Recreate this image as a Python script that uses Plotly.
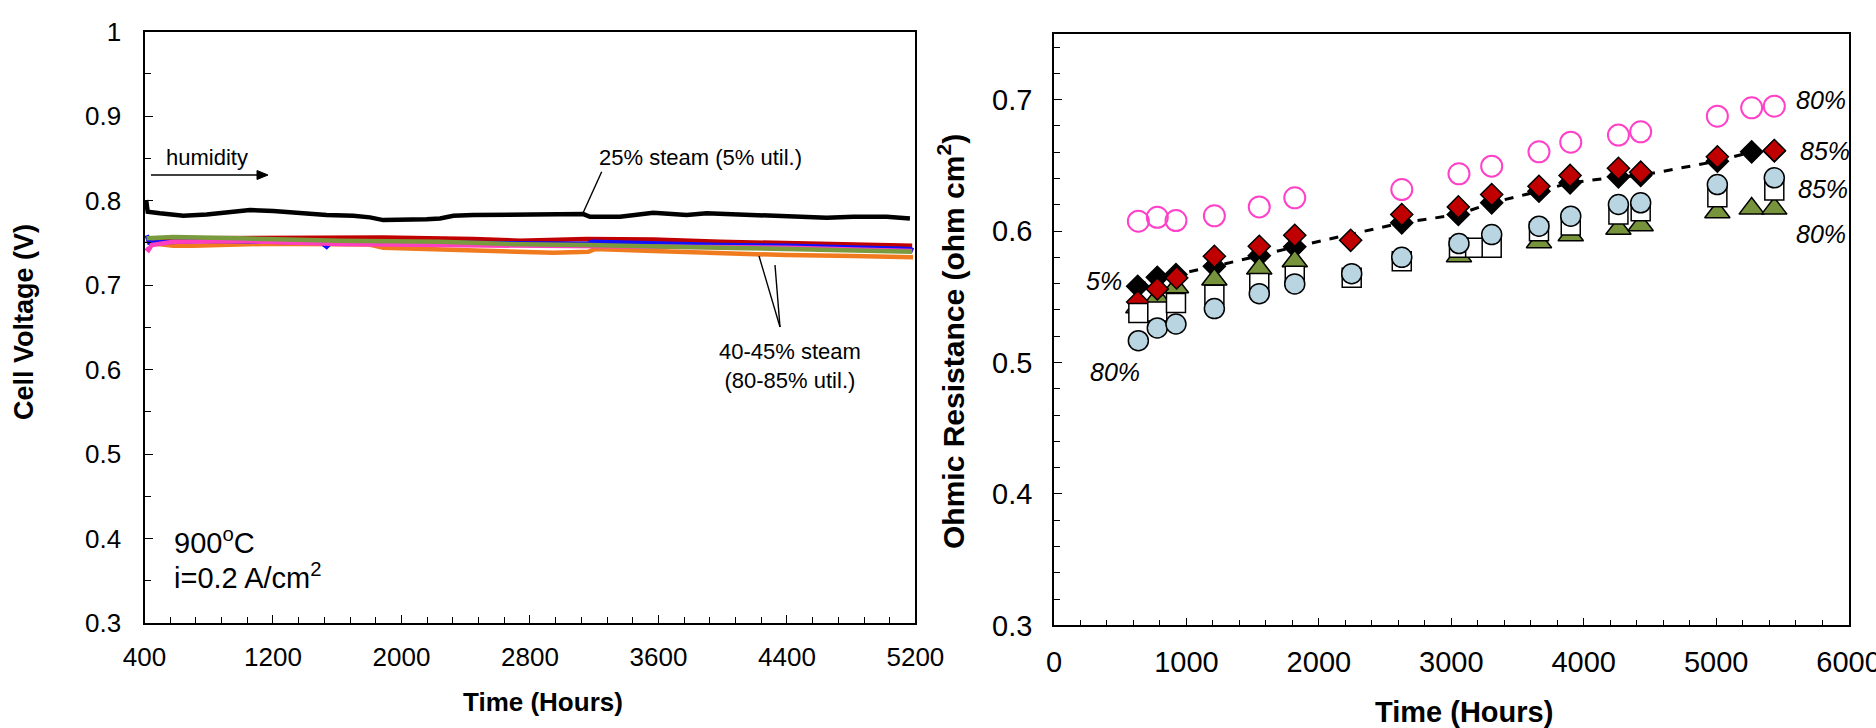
import plotly.graph_objects as go

# ---------------- Left chart: cell voltage vs time ----------------
black_t = [410, 420, 496, 642, 787, 912, 1057, 1202, 1368, 1534, 1700, 1804, 1887, 2033, 2157, 2240,
           2323, 2447, 2655, 2863, 3132, 3174, 3361, 3568, 3776, 3900, 4191, 4399, 4648, 4814, 5021, 5166]
black_v = [0.8006, 0.7868, 0.7849, 0.782, 0.7836, 0.786, 0.7888, 0.7876, 0.7849, 0.7828, 0.782, 0.7801,
           0.7769, 0.7769, 0.7778, 0.7789, 0.782, 0.7828, 0.7828, 0.7836, 0.784, 0.7808, 0.7808, 0.7856,
           0.7828, 0.7849, 0.7828, 0.782, 0.7797, 0.7808, 0.7808, 0.7789]

orange_t = [410, 445, 580, 704, 1200, 1800, 1887, 2240, 2738, 2945, 3163, 3205, 3568, 3983, 4399, 4814, 5185]
orange_v = [0.7528, 0.7494, 0.7466, 0.7466, 0.749, 0.748, 0.7442, 0.7426, 0.7394, 0.7382, 0.7394, 0.7426,
            0.7402, 0.7375, 0.7355, 0.7343, 0.7328]

red_t = [420, 787, 1202, 1887, 2447, 2738, 3153, 3568, 3983, 4399, 4814, 5180]
red_v = [0.755, 0.7555, 0.7553, 0.7564, 0.7544, 0.7525, 0.7544, 0.754, 0.7513, 0.7494, 0.7482, 0.7466]

blue_t = [414, 430, 787, 1500, 1534, 1560, 2240, 3163, 3184, 3568, 3983, 4399, 4814, 5166, 5187]
blue_v = [0.759, 0.750, 0.7525, 0.7505, 0.7453, 0.7505, 0.750, 0.749, 0.7513, 0.7494, 0.7473, 0.7466,
          0.7442, 0.7426, 0.741]

pink_t = [410, 425, 445, 580, 995, 1617, 2240, 2863, 3568, 4399, 5180]
pink_v = [0.744, 0.7414, 0.7473, 0.7513, 0.752, 0.7485, 0.7473, 0.7466, 0.7462, 0.7442, 0.7402]

green_t = [413, 580, 995, 1617, 2240, 2738, 3153, 3568, 3983, 4399, 4814, 5180]
green_v = [0.7553, 0.7568, 0.7553, 0.7525, 0.7513, 0.7482, 0.7473, 0.7462, 0.7442, 0.7426, 0.741, 0.7394]

left_xticks = [400, 1200, 2000, 2800, 3600, 4400, 5200]
left_xlabels = ["400", "1200", "2000", "2800", "3600", "4400", "5200"]
left_yticks = [0.3, 0.4, 0.5, 0.6, 0.7, 0.8, 0.9, 1.0]
left_ylabels = ["0.3", "0.4", "0.5", "0.6", "0.7", "0.8", "0.9", "1"]

# ---------------- Right chart: ohmic resistance vs time ----------------
pink80_t = [637, 780, 921, 1211, 1550, 1818, 2626, 3058, 3305, 3662, 3902, 4262, 4430, 5009, 5268, 5439]
pink80_v = [0.6075, 0.6105, 0.608, 0.6116, 0.6184, 0.6253, 0.6316, 0.6436, 0.6494, 0.6603, 0.6676,
            0.673, 0.6755, 0.6874, 0.6938, 0.695]

black5_t = [632, 780, 921, 1211, 1550, 1818, 2626, 3053, 3305, 3662, 3897, 4262, 4430, 5009, 5268, 5439]
black5_v = [0.558, 0.5648, 0.5669, 0.5732, 0.5813, 0.588, 0.6063, 0.6126, 0.6215, 0.6303, 0.6367,
            0.6413, 0.6423, 0.6532, 0.6603, 0.661]

red85_t = [632, 780, 926, 1211, 1550, 1818, 2240, 2626, 3053, 3305, 3662, 3897, 4262, 4430, 5009, 5439]
red85_v = [0.546, 0.556, 0.5644, 0.5808, 0.5884, 0.5968, 0.593, 0.6126, 0.6184, 0.6278, 0.6341,
           0.6423, 0.6478, 0.6448, 0.6565, 0.6613]

blue80_t = [637, 780, 921, 1211, 1550, 1818, 2248, 2626, 3058, 3305, 3662, 3902, 4262, 4430, 5009, 5439]
blue80_v = [0.5166, 0.5263, 0.5293, 0.541, 0.5524, 0.5598, 0.5676, 0.58, 0.5905, 0.5973, 0.6037,
            0.6113, 0.6202, 0.6215, 0.6354, 0.6405]

square85_t = [637, 780, 921, 1211, 1550, 1818, 2248, 2626, 3058, 3180, 3305, 3662, 3902, 4262, 4430, 5009, 5439]
square85_v = [0.5377, 0.5389, 0.5453, 0.5516, 0.5605, 0.5661, 0.5644, 0.577, 0.5874, 0.5874, 0.5874,
              0.5999, 0.6042, 0.6126, 0.6151, 0.6258, 0.6308]

tri80_t = [637, 780, 921, 1211, 1550, 1818, 3058, 3662, 3902, 4262, 4430, 5009, 5268, 5439]
tri80_v = [0.542, 0.5491, 0.5572, 0.5631, 0.5715, 0.577, 0.5808, 0.5915, 0.5968, 0.6018, 0.6044,
           0.6143, 0.6171, 0.6171]

right_xticks = [0, 1000, 2000, 3000, 4000, 5000, 6000]
right_xlabels = ["0", "1000", "2000", "3000", "4000", "5000", "6000"]
right_yticks = [0.3, 0.4, 0.5, 0.6, 0.7]
right_ylabels = ["0.3", "0.4", "0.5", "0.6", "0.7"]

FONT = "Liberation Sans, Arial, sans-serif"
W, H = 1876, 728


def px(x):
    return x / W


def py(y):
    return 1 - y / H


fig = go.Figure()

# left lines
for t, v, c in [(orange_t, orange_v, "#F07A1E"), (red_t, red_v, "#C00000"), (blue_t, blue_v, "#1010FF"),
                (pink_t, pink_v, "#FF3FBF"), (green_t, green_v, "#7A9A3E"), (black_t, black_v, "#000000")]:
    fig.add_trace(go.Scatter(x=t, y=v, mode="lines", line=dict(color=c, width=4.5),
                             xaxis="x", yaxis="y", showlegend=False, hoverinfo="skip"))

# right markers
outline = dict(color="black", width=1.5)
fig.add_trace(go.Scatter(x=black5_t, y=black5_v, mode="lines+markers",
                         line=dict(color="black", width=3, dash="dash"),
                         marker=dict(symbol="diamond", size=17, color="black", line=outline),
                         xaxis="x2", yaxis="y2", showlegend=False))
fig.add_trace(go.Scatter(x=tri80_t, y=tri80_v, mode="markers",
                         marker=dict(symbol="triangle-up", size=22, color="#77933C", line=outline),
                         xaxis="x2", yaxis="y2", showlegend=False))
fig.add_trace(go.Scatter(x=red85_t, y=red85_v, mode="markers",
                         marker=dict(symbol="diamond", size=17, color="#C00000", line=outline),
                         xaxis="x2", yaxis="y2", showlegend=False))
fig.add_trace(go.Scatter(x=square85_t, y=square85_v, mode="markers",
                         marker=dict(symbol="square", size=19, color="white", line=outline),
                         xaxis="x2", yaxis="y2", showlegend=False))
fig.add_trace(go.Scatter(x=blue80_t, y=blue80_v, mode="markers",
                         marker=dict(symbol="circle", size=20, color="#B9D5E2", line=outline),
                         xaxis="x2", yaxis="y2", showlegend=False))
fig.add_trace(go.Scatter(x=pink80_t, y=pink80_v, mode="markers",
                         marker=dict(symbol="circle-open", size=21, color="#FF40C8",
                                     line=dict(color="#FF40C8", width=2)),
                         xaxis="x2", yaxis="y2", showlegend=False))

axis_common = dict(showline=True, linecolor="black", mirror=True, showgrid=False, zeroline=False,
                   ticks="inside", tickcolor="black", tickmode="array", automargin=False,
                   ticklabeloverflow="allow")

fig.update_layout(
    width=W, height=H, autosize=False,
    margin=dict(l=0, r=0, t=0, b=0, pad=0),
    paper_bgcolor="white", plot_bgcolor="white",
    font=dict(family=FONT, color="black"),
    xaxis=dict(domain=[144.5 / W, 915.4 / W], anchor="y", range=[400, 5200],
               tickvals=left_xticks, ticktext=left_xlabels, ticklen=8, tickwidth=1.2,
               linewidth=2.2, tickfont=dict(size=26), ticklabelstandoff=10,
               minor=dict(dtick=160, tick0=400, ticks="inside", ticklen=6, tickcolor="black",
                          tickwidth=1, showgrid=False),
               **axis_common),
    yaxis=dict(domain=[py(623), py(31.6)], anchor="x", range=[0.3, 1.0],
               tickvals=left_yticks, ticktext=left_ylabels, ticklen=8, tickwidth=1.2,
               linewidth=2.2, tickfont=dict(size=26), ticklabelstandoff=16,
               minor=dict(dtick=0.05, tick0=0.3, ticks="inside", ticklen=6, tickcolor="black",
                          tickwidth=1, showgrid=False),
               **axis_common),
    xaxis2=dict(domain=[1054 / W, 1848.6 / W], anchor="y2", range=[0, 6000],
                tickvals=right_xticks, ticktext=right_xlabels, ticklen=8, tickwidth=1.2,
                linewidth=1.5, tickfont=dict(size=29), ticklabelstandoff=10,
                minor=dict(dtick=200, tick0=0, ticks="inside", ticklen=6, tickcolor="black",
                           tickwidth=1, showgrid=False),
                **axis_common),
    yaxis2=dict(domain=[py(625.4), py(33.9)], anchor="x2", range=[0.3, 0.75],
                tickvals=right_yticks, ticktext=right_ylabels, ticklen=8, tickwidth=1.2,
                linewidth=1.5, tickfont=dict(size=29), ticklabelstandoff=14,
                minor=dict(dtick=0.02, tick0=0.3, ticks="inside", ticklen=6, tickcolor="black",
                           tickwidth=1, showgrid=False),
                **axis_common),
)

ann = []


def txt(x, y, text, size, xanchor="center", angle=0, bold=False):
    if bold:
        text = "<b>" + text + "</b>"
    ann.append(dict(x=px(x), y=py(y), xref="paper", yref="paper", text=text, showarrow=False,
                    xanchor=xanchor, yanchor="middle", textangle=angle,
                    font=dict(size=size, family=FONT, color="black")))


# left titles / notes
txt(24, 322, "Cell Voltage (V)", 27, angle=-90, bold=True)
txt(542.5, 702, "Time (Hours)", 26, bold=True)
txt(164, 157, "humidity", 22, xanchor="left")
txt(597, 157, "25% steam (5% util.)", 22, xanchor="left")
txt(790, 366, "40-45% steam<br>(80-85% util.)", 22)
txt(172, 541, "900<sup>o</sup>C", 29, xanchor="left")
txt(172, 576, "i=0.2 A/cm<sup>2</sup>", 29, xanchor="left")

# right titles / labels
txt(951, 342, "Ohmic Resistance (ohm cm<sup>2</sup>)", 30, angle=-90, bold=True)
txt(1464, 712, "Time (Hours)", 29, bold=True)
txt(1821, 100, "<i>80%</i>", 25)
txt(1825, 151, "<i>85%</i>", 25)
txt(1823, 189, "<i>85%</i>", 25)
txt(1821, 234, "<i>80%</i>", 25)
txt(1104, 281, "<i>5%</i>", 25)
txt(1115, 372, "<i>80%</i>", 25)
fig.update_layout(annotations=ann)

shapes = []
# pointer lines and humidity arrow shaft
for (x0, y0, x1, y1) in [(601.7, 171.7, 582.9, 213.3), (780, 327, 759, 256), (780, 327, 775, 265),
                         (151, 175, 262, 175)]:
    shapes.append(dict(type="line", xref="paper", yref="paper", x0=px(x0), y0=py(y0), x1=px(x1), y1=py(y1),
                       line=dict(color="black", width=1.4)))
# humidity arrow head
head = "M {} {} L {} {} L {} {} Z".format(px(268), py(175), px(257), py(170.5), px(257), py(179.5))
shapes.append(dict(type="path", xref="paper", yref="paper", path=head, fillcolor="black",
                   line=dict(color="black", width=1)))
fig.update_layout(shapes=shapes)

# place the figure at the page's top-left corner (remove default body margin)
fig.write_html("out.html", config={"displayModeBar": False},
               post_script="document.body.style.margin='0px';document.body.style.overflow='hidden';")
